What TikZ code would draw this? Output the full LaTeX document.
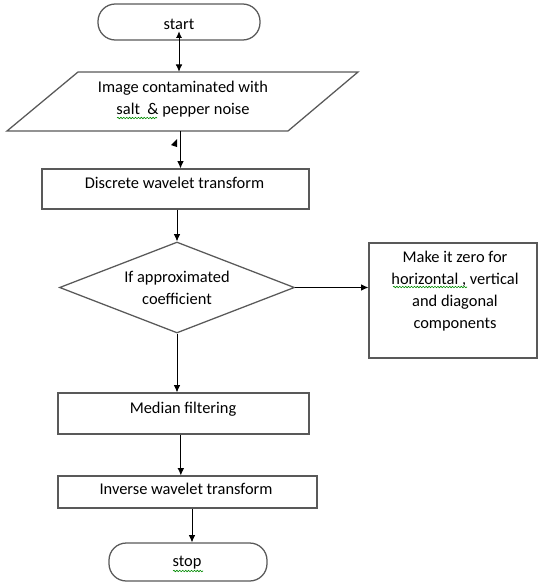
\documentclass[tikz,border=0pt]{standalone}
\usepackage{fontspec}
\setmainfont{Carlito}
\usetikzlibrary{arrows.meta,shapes.geometric,decorations.pathmorphing}
\begin{document}
\begin{tikzpicture}[x=0.75pt,y=-0.75pt,
  font=\fontsize{12.3pt}{16.5pt}\selectfont,
  shp/.style={draw=black!65, line width=0.95pt, fill=white},
  termbox/.style={shp, rectangle, rounded corners=13pt, inner sep=0pt},
  procbox/.style={shp, rectangle, inner sep=0pt},
  txt/.style={align=center, inner sep=0pt, text=black},
  conn/.style={draw=black, line width=0.65pt, -{Latex[length=5.5pt,width=5pt]}},
  squig/.style={draw=green!55!black, line width=0.45pt, decorate,
    decoration={snake, amplitude=0.55pt, segment length=2.2pt}}
]
\useasboundingbox (0,0) rectangle (538,582);

% shapes
\node[termbox, minimum width=121.5pt, minimum height=27pt] (start) at (179,22) {};
\node[txt] (start-t) at (179,24) {start};

\draw[shp] (78,72) -- (358,72) -- (288,131) -- (7,131) -- cycle;
\node[inner sep=0pt, minimum width=150pt, minimum height=44.25pt] (img) at (182.5,101.5) {};
\node[txt] (img-t) at (183,99) {Image contaminated with\\salt\ \ \& pepper noise};

\node[procbox, minimum width=200.25pt, minimum height=30pt] (dwt) at (175.5,189) {};
\node[txt] (dwt-t) at (174.5,183) {Discrete wavelet transform};

\node[shp, diamond, aspect=2.58, inner sep=0pt, minimum width=176.25pt, minimum height=68.25pt] (dia) at (177,287.5) {};
\node[txt] (dia-t) at (177,288) {If approximated\\coefficient};

\node[procbox, minimum width=126pt, minimum height=86.25pt] (rbox) at (453,300.5) {};
\node[txt] (rbox-t) at (455,291.5) {Make it zero for\\horizontal , vertical\\and diagonal\\components};

\node[procbox, minimum width=188.25pt, minimum height=30.75pt] (med) at (183.5,413.5) {};
\node[txt] (med-t) at (183,409) {Median filtering};

\node[procbox, minimum width=194.25pt, minimum height=24pt] (inv) at (187.5,492) {};
\node[txt] (inv-t) at (186,489) {Inverse wavelet transform};

\node[termbox, minimum width=118.5pt, minimum height=28.5pt] (stop) at (188,562) {};
\node[txt] (stop-t) at (187,563) {stop};

% spell-check underlines
\draw[squig] (117,118) -- (157,118);
\draw[squig] (393,287) -- (467,287);
\draw[squig] (173,571) -- (203,571);

% connectors
\draw[conn, {Latex[length=5pt,width=4.5pt]}-{Latex[length=5.5pt,width=5pt]}]
  ([yshift=7pt]start.south) -- (start.south |- img.north);
\draw[conn] ([xshift=-1.5pt]img.south) -- ([xshift=-1.5pt]img.south |- dwt.north);
\fill (171,145) -- (177,139) -- (177,147) -- cycle;
\draw[conn] (dia.north |- dwt.south) -- (dia.north);
\draw[conn] (dia.east) -- (dia.east -| rbox.west);
\draw[conn] (dia.south) -- (dia.south |- med.north);
\draw[conn] ([xshift=-2pt]med.south) -- ([xshift=-2pt]med.south |- inv.north);
\draw[conn] ([xshift=3pt]stop.north |- inv.south) -- ([xshift=3pt]stop.north);
\end{tikzpicture}
\end{document}
